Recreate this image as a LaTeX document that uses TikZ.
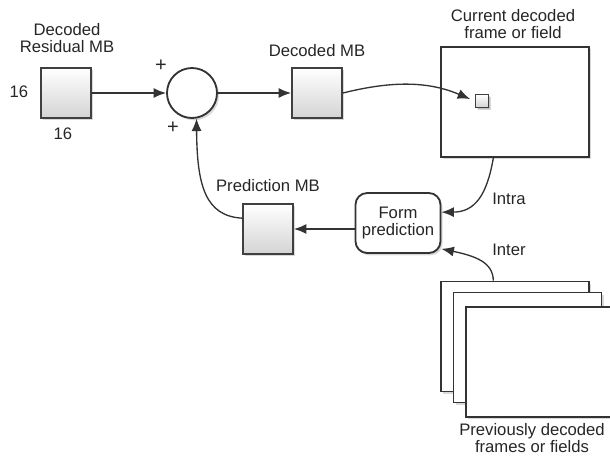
\documentclass[tikz,border=0pt]{standalone}
\usepackage{fontspec}
\setmainfont{Liberation Sans}
\usetikzlibrary{positioning, arrows.meta, shadows}

\begin{document}
\begin{tikzpicture}[
    x=0.6pt, y=-0.6pt,
    every node/.style={text=black!85, font=\fontsize{10}{9.8}\selectfont},
    lbl/.style={align=center, inner sep=0pt},
    shadowed/.style={drop shadow={opacity=0.3, shadow xshift=1.2pt, shadow yshift=-1.4pt}},
    mbbox/.style={draw=black!75, line width=1.1pt, minimum size=30pt, inner sep=0pt, top color=white, bottom color=black!17, shadowed},
    frame/.style={draw=black!80, line width=1.1pt, fill=white, minimum width=88.8pt, minimum height=66pt, inner sep=0pt, shadowed},
    arrow/.style={-{Latex[length=7.5pt, width=6pt]}, line width=0.8pt, draw=black!80}
]
\useasboundingbox (0,0) rectangle (610,462);

% blocks
\node[mbbox] (res) at (66,93) {};
\node[draw=black!80, line width=1.1pt, circle, fill=white, minimum size=30pt, inner sep=0pt, shadowed] (sum) at (192,93) {};
\node[mbbox] (dmb) at (317,93) {};
\node[frame] (cur) at (515,102) {};
\node[mbbox, minimum size=7.8pt, line width=0.9pt, drop shadow={opacity=0.25, shadow xshift=0.6pt, shadow yshift=-0.6pt}] (sq) at (482,101) {};
\node[draw=black!80, line width=1.1pt, rounded corners=7pt, fill=white, minimum width=51pt, minimum height=36pt, align=center, shadowed] (form) at (398,223) {Form\\prediction};
\node[mbbox] (pmb) at (268,229) {};
\node[frame] (prev1) at (515,336.5) {};
\node[frame] (prev2) at (527.5,347.5) {};
\node[frame] (prev3) at (540,362) {};

% labels
\node[lbl] at (67,38) {Decoded\\Residual MB};
\node[lbl] at (19,92) {16};
\node[lbl] at (63,134) {16};
\node[lbl, font=\large] at (161,66) {+};
\node[lbl, font=\large] at (173,128) {+};
\node[lbl, above=6pt of dmb] {Decoded MB};
\node[lbl] at (513,24) {Current decoded\\frame or field};
\node[lbl, above=6.6pt of pmb] {Prediction MB};
\node[lbl] at (509,199) {Intra};
\node[lbl] at (509,250) {Inter};
\node[lbl] at (532,438) {Previously decoded\\frames or fields};

% connectors
\draw[arrow] (res) -- (sum);
\draw[arrow] (sum) -- (dmb);
\draw[arrow, shorten >=3pt] (dmb.east) .. controls (395,80) and (430,82) .. (sq.west);
\draw[arrow] ([xshift=-13pt]cur.south) .. controls (487,195) and (475,212) .. ([yshift=6.5pt]form.east);
\draw[arrow] ([xshift=-13pt]prev1.north) .. controls (493,262) and (475,256) .. ([yshift=-15.5pt]form.east);
\draw[arrow] (form.west |- pmb) -- (pmb.east);
\draw[arrow] ([yshift=6.5pt]pmb.west) .. controls (205,216) and (197,185) .. (sum.-80);

\end{tikzpicture}
\end{document}
